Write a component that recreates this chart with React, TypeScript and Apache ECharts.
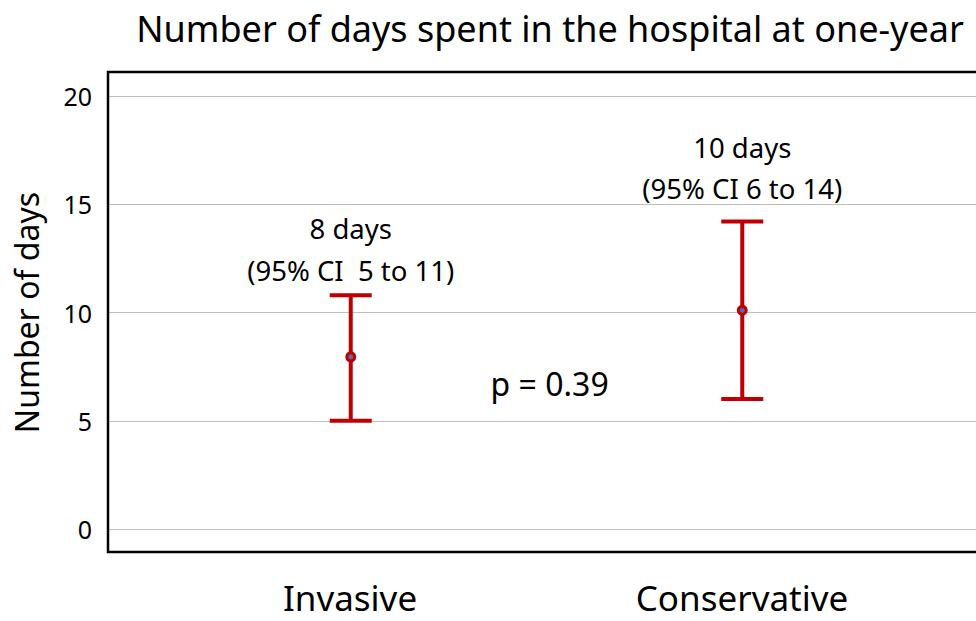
import React, { useEffect, useRef } from "react";
import * as echarts from "echarts";

const categories = ["Invasive", "Conservative"];
const categoryPos = [1, 2];
const means = [7.95, 10.1];
const lowerCI = [5, 6];
const upperCI = [10.8, 14.2];
const yTicks = [0, 5, 10, 15, 20];

const annotationX = [1, 1, 2, 2, 1.508];
const annotationY = [13.86, 11.96, 17.6, 15.75, 6.74];
const annotationText = ["8 days", "(95% CI  5 to 11)", "10 days", "(95% CI 6 to 14)", "p = 0.39"];
const annotationSize = [27.5, 27.5, 27.5, 27.5, 32];

const FONT = "'Noto Sans', 'Open Sans', sans-serif";
const RED = "#C00000";

export default function App() {
  const ref = useRef<HTMLDivElement>(null);
  useEffect(() => {
    if (!ref.current) return;
    const chart = echarts.init(ref.current, null, { renderer: "svg" });
    const errData = categoryPos.map((x, i) => [x, lowerCI[i], means[i], upperCI[i]]);
    chart.setOption({
      animation: false,
      backgroundColor: "#fff",
      title: {
        text: "Number of days spent in the hospital at one-year",
        left: 545,
        textAlign: "center",
        top: 5,
        textStyle: { fontFamily: FONT, fontSize: 36, fontWeight: "normal", color: "#000" },
      },
      graphic: [
        {
          type: "rect",
          z: 100,
          shape: { x: 108, y: 72, width: 900, height: 480 },
          style: { fill: "none", stroke: "#000", lineWidth: 2.5 },
        },
        ...categories.map((c, i) => ({
          type: "text",
          x: 350 + i * 392,
          y: 597,
          style: {
            text: c,
            fontFamily: FONT,
            fontSize: 35,
            lineHeight: 38,
            fill: "#000",
            textAlign: "center",
            textVerticalAlign: "middle",
          },
        })),
      ],
      grid: { left: 108, right: 0, top: 96, bottom: 92, containLabel: false, outerBoundsMode: "none" },
      xAxis: {
        type: "value",
        min: 0.38,
        max: 2.597,
        show: false,
      },
      yAxis: {
        type: "value",
        min: yTicks[0],
        max: yTicks[yTicks.length - 1],
        interval: 5,
        name: "Number of days",
        nameLocation: "middle",
        nameGap: 66,
        nameRotate: 90,
        nameTextStyle: { fontFamily: FONT, fontSize: 32, color: "#000" },
        axisLine: { show: false },
        axisTick: { show: false },
        axisLabel: { fontFamily: FONT, fontSize: 25, color: "#000", margin: 16 },
        splitLine: { lineStyle: { color: "#BFBFBF", width: 1 } },
      },
      series: [
        {
          type: "custom",
          data: errData,
          renderItem: (params: any, api: any) => {
            const x = api.value(0);
            const lo = api.coord([x, api.value(1)]);
            const mid = api.coord([x, api.value(2)]);
            const hi = api.coord([x, api.value(3)]);
            const half = 21;
            const ls = { stroke: RED, lineWidth: 4 };
            return {
              type: "group",
              children: [
                { type: "line", shape: { x1: lo[0], y1: lo[1], x2: hi[0], y2: hi[1] }, style: ls },
                { type: "line", shape: { x1: lo[0] - half, y1: lo[1], x2: lo[0] + half, y2: lo[1] }, style: ls },
                { type: "line", shape: { x1: hi[0] - half, y1: hi[1], x2: hi[0] + half, y2: hi[1] }, style: ls },
                { type: "circle", shape: { cx: mid[0], cy: mid[1], r: 4 }, style: { fill: "#4472C4", stroke: RED, lineWidth: 3 } },
              ],
            };
          },
        },
        {
          type: "scatter",
          symbolSize: 0,
          silent: true,
          itemStyle: { opacity: 1 },
          data: annotationX.map((x, i) => ({
            value: [x, annotationY[i]],
            label: {
              show: true,
              position: "inside",
              formatter: annotationText[i],
              fontFamily: FONT,
              fontSize: annotationSize[i],
              color: "#000",
              opacity: 1,
              textBorderWidth: 0,
            },
          })),
        },
      ],
    });
    return () => chart.dispose();
  }, []);
  return (
    <div
      ref={ref}
      style={{ position: "fixed", left: 0, top: 0, width: 976, height: 621, background: "#fff" }}
    />
  );
}
